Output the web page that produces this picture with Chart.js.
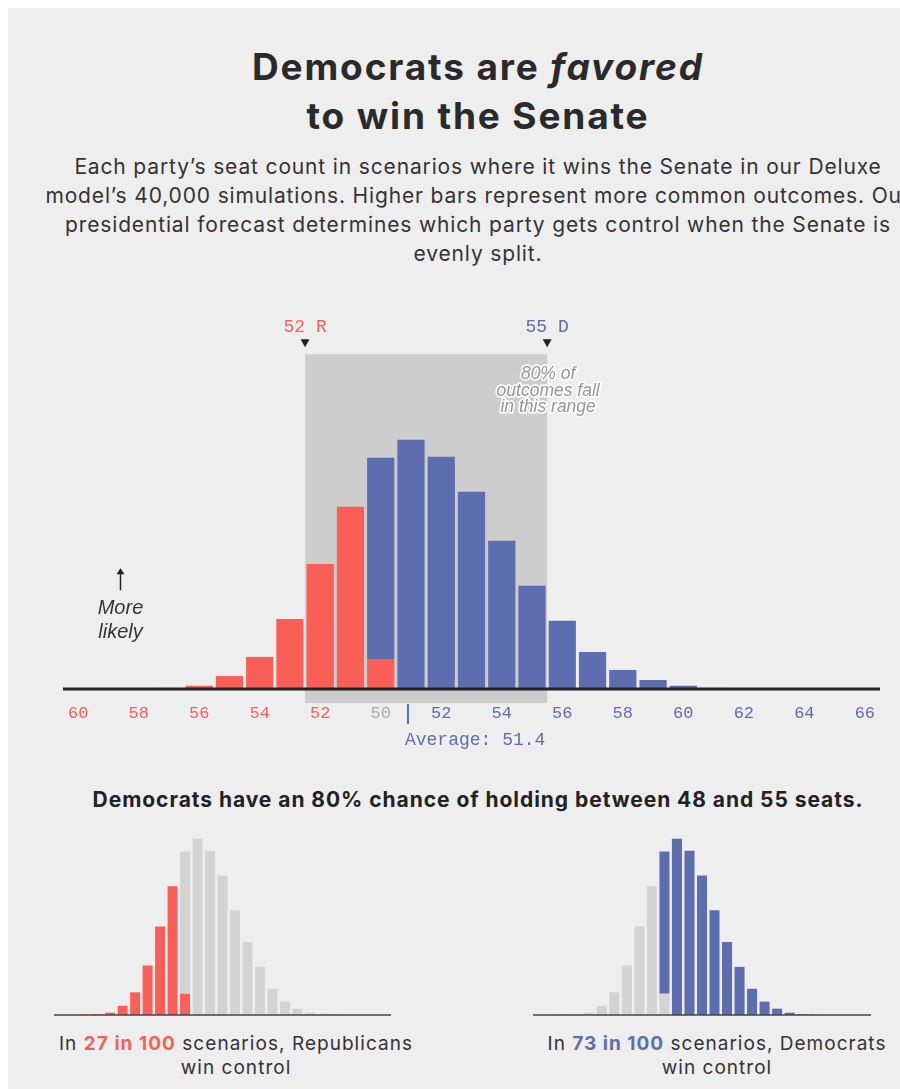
<!DOCTYPE html>
<html>
<head>
<meta charset="utf-8">
<script src="https://cdn.jsdelivr.net/npm/chart.js@4.4.1/dist/chart.umd.min.js"></script>
<style>
  html, body { margin: 0; padding: 0; width: 900px; height: 1089px; overflow: hidden; background: #fff; }
  #card { position: absolute; left: 8px; top: 8px; width: 940px; height: 1100px; background: #eeeeee; }
  .center { position: absolute; left: 8px; width: 940px; text-align: center; white-space: nowrap; color: #222; }
  #title { top: 42px; font: bold 37px/49px Inter, sans-serif; color: #2a2a2a; }
  #sub { top: 152px; font: 21px/29px Inter, sans-serif; color: #333; }
  #sub2 { top: 786px; font: bold 21px/28px Inter, sans-serif; }
  .cap { position: absolute; width: 420px; text-align: center; font: 19px/24px Inter, sans-serif; color: #333; white-space: nowrap; }
  .cap b.r { color: #f95f57; }
  .cap b.d { color: #5d6db0; }
  canvas { position: absolute; }
</style>
</head>
<body>
<div id="card"></div>
<div id="title" class="center"><span data-w="452">Democrats are <i>favored</i></span><br><span>to win the Senate</span></div>
<div id="sub" class="center"><span data-w="807">Each party’s seat count in scenarios where it wins the Senate in our Deluxe</span><br><span>model’s 40,000 simulations. Higher bars represent more common outcomes. Our</span><br><span>presidential forecast determines which party gets control when the Senate is</span><br><span>evenly split.</span></div>
<canvas id="main" width="900" height="470" style="left:0;top:290px;width:900px;height:470px"></canvas>
<div id="sub2" class="center"><span data-w="771">Democrats have an 80% chance of holding between 48 and 55 seats.</span></div>
<canvas id="repChart" width="380" height="200" style="left:40px;top:820px;width:380px;height:200px"></canvas>
<canvas id="demChart" width="380" height="200" style="left:520px;top:820px;width:380px;height:200px"></canvas>
<div class="cap" style="left:26px;top:1032px"><span data-w="354">In <b class="r">27 in 100</b> scenarios, Republicans</span><br><span>win control</span></div>
<div class="cap" style="left:507px;top:1032px"><span data-w="339">In <b class="d">73 in 100</b> scenarios, Democrats</span><br><span>win control</span></div>
<script>
// Democratic seat counts (the axis shows Republican seats to the left of 50)
const seats = [40, 41, 42, 43, 44, 45, 46, 47, 48, 49, 50, 51, 52, 53, 54, 55, 56, 57, 58, 59, 60, 61, 62, 63, 64, 65, 66];
const tickLabels = ['60', '', '58', '', '56', '', '54', '', '52', '', '50', '', '52', '', '54', '', '56', '', '58', '', '60', '', '62', '', '64', '', '66'];

// share of simulations (%) won by each party at that seat count
const repWins = [null, null, 0.03, 0.06, 0.19, 0.75, 1.86, 4.06, 7.25, 10.56, 1.74, null, null, null, null, null, null, null, null, null, null, null, null, null, null, null, null];
const demWins = [null, null, null, null, null, null, null, null, null, null, 11.66, 14.45, 13.46, 11.43, 8.59, 5.98, 3.95, 2.15, 1.10, 0.52, 0.19, 0.06, 0.03, null, null, null, null];

const rangeLow = 48;   // 80% range, Democratic seats
const rangeHigh = 55;
const average = 51.4;

const RED = '#f95f57';
const BLUE = '#5d6db0';
const GREY = '#d3d3d3';

// stretch text blocks to the widths of the original type (letter-spacing only)
document.querySelectorAll('[data-w]').forEach(span => {
  const block = span.parentNode;
  const n = span.textContent.length;
  const ls = (Number(span.dataset.w) - span.getBoundingClientRect().width) / n;
  block.style.letterSpacing = ls.toFixed(2) + 'px';
});

// continuous seat value -> pixel (each bar covers [seat, seat + 1))
function seatX(scale, s) {
  return scale.getPixelForValue(s - seats[0] - 0.5);
}

const tickColors = seats.map(s => s < 50 ? RED : (s === 50 ? '#aaaaaa' : BLUE));

const rangeBox = {
  id: 'rangeBox',
  beforeDraw(chart) {
    const { ctx, chartArea, scales: { x, y } } = chart;
    const left = seatX(x, rangeLow);
    const right = seatX(x, rangeHigh + 1);
    const top = y.getPixelForValue(19.4);
    ctx.save();
    ctx.fillStyle = '#cdcdcd';
    ctx.fillRect(left, top, right - left, chartArea.bottom + 14 - top);
    ctx.restore();
  },
  afterDatasetsDraw(chart) {
    const { ctx, chartArea, scales: { x, y } } = chart;
    const left = seatX(x, rangeLow);
    const right = seatX(x, rangeHigh + 1);
    const top = y.getPixelForValue(19.4);
    ctx.save();
    // baseline
    ctx.strokeStyle = '#222';
    ctx.lineWidth = 3;
    ctx.beginPath();
    ctx.moveTo(chartArea.left, chartArea.bottom);
    ctx.lineTo(chartArea.right, chartArea.bottom);
    ctx.stroke();

    // markers above the range
    ctx.fillStyle = '#222';
    [left, right].forEach(px => {
      ctx.beginPath();
      ctx.moveTo(px - 4.5, top - 15);
      ctx.lineTo(px + 4.5, top - 15);
      ctx.lineTo(px, top - 7);
      ctx.closePath();
      ctx.fill();
    });
    ctx.font = '18px "Liberation Mono"';
    ctx.textAlign = 'center';
    ctx.textBaseline = 'middle';
    ctx.fillStyle = RED;
    ctx.fillText((100 - rangeLow) + ' R', left, top - 27);
    ctx.fillStyle = BLUE;
    ctx.fillText(rangeHigh + ' D', right, top - 27);

    // range note
    ctx.font = 'italic 17.5px "Liberation Sans"';
    ctx.lineJoin = 'round';
    ctx.strokeStyle = 'rgba(255,255,255,0.9)';
    ctx.lineWidth = 3.5;
    ctx.fillStyle = '#979797';
    ['80% of', 'outcomes fall', 'in this range'].forEach((t, i) => {
      const ty = top + 20 + i * 16.5;
      ctx.strokeText(t, right + 1, ty);
      ctx.fillText(t, right + 1, ty);
    });
    ctx.restore();
  },
  afterDraw(chart) {
    const { ctx, chartArea, scales: { x, y } } = chart;
    ctx.save();
    // average marker
    const ax = seatX(x, average);
    ctx.strokeStyle = BLUE;
    ctx.lineWidth = 2;
    ctx.beginPath();
    ctx.moveTo(ax, chartArea.bottom + 15);
    ctx.lineTo(ax, chartArea.bottom + 35);
    ctx.stroke();
    ctx.fillStyle = BLUE;
    ctx.font = '18px "Liberation Mono"';
    ctx.textAlign = 'left';
    ctx.textBaseline = 'middle';
    ctx.fillText('Average: ' + average, ax - 3, chartArea.bottom + 51);

    // "More likely" hint
    const mx = x.getPixelForValue(1.4);
    const tip = y.getPixelForValue(7.0);
    ctx.strokeStyle = '#222';
    ctx.fillStyle = '#222';
    ctx.lineWidth = 1.5;
    ctx.beginPath();
    ctx.moveTo(mx, tip + 4);
    ctx.lineTo(mx, tip + 22);
    ctx.stroke();
    ctx.beginPath();
    ctx.moveTo(mx - 4, tip + 6);
    ctx.lineTo(mx + 4, tip + 6);
    ctx.lineTo(mx, tip);
    ctx.closePath();
    ctx.fill();
    ctx.fillStyle = '#333';
    ctx.font = 'italic 20px "Liberation Sans"';
    ctx.textAlign = 'center';
    ctx.fillText('More', mx, tip + 40);
    ctx.fillText('likely', mx, tip + 64);
    ctx.restore();
  }
};

new Chart(document.getElementById('main'), {
  type: 'bar',
  data: {
    labels: seats,
    datasets: [
      { data: repWins, backgroundColor: RED, barPercentage: 0.9, categoryPercentage: 1 },
      { data: demWins, backgroundColor: BLUE, barPercentage: 0.9, categoryPercentage: 1 }
    ]
  },
  options: {
    responsive: false,
    animation: false,
    layout: { padding: { left: 63, right: 20, top: 54, bottom: 0 } },
    plugins: { legend: { display: false }, tooltip: { enabled: false } },
    scales: {
      x: {
        stacked: true,
        grid: { display: false, drawTicks: false },
        border: { display: false },
        ticks: {
          autoSkip: false,
          maxRotation: 0,
          padding: 14,
          font: { family: 'Liberation Mono', size: 17 },
          color: c => tickColors[c.index],
          callback: (v, i) => tickLabels[i]
        },
        afterFit: s => { s.height = 71; }
      },
      y: { stacked: true, display: false, min: 0, max: 20 }
    }
  },
  plugins: [rangeBox]
});

// small multiples: same distribution, one party highlighted
const baseLine = {
  id: 'baseLine',
  afterDatasetsDraw(chart) {
    const { ctx, chartArea } = chart;
    ctx.save();
    ctx.strokeStyle = '#444';
    ctx.lineWidth = 1.5;
    ctx.beginPath();
    ctx.moveTo(chartArea.left, chartArea.bottom);
    ctx.lineTo(chartArea.right, chartArea.bottom);
    ctx.stroke();
    ctx.restore();
  }
};

function smallChart(id, repColor, demColor, padLeft, padRight) {
  return new Chart(document.getElementById(id), {
    type: 'bar',
    data: {
      labels: seats,
      datasets: [
        { data: repWins, backgroundColor: repColor, barPercentage: 0.8, categoryPercentage: 1 },
        { data: demWins, backgroundColor: demColor, barPercentage: 0.8, categoryPercentage: 1 }
      ]
    },
    options: {
      responsive: false,
      animation: false,
      layout: { padding: { left: padLeft, right: padRight, top: 12, bottom: 5 } },
      plugins: { legend: { display: false }, tooltip: { enabled: false } },
      scales: {
        x: { stacked: true, display: false },
        y: { stacked: true, display: false, min: 0, max: 15 }
      }
    },
    plugins: [baseLine]
  });
}

smallChart('repChart', RED, GREY, 14, 29);
smallChart('demChart', GREY, BLUE, 13, 29);
</script>
</body>
</html>
